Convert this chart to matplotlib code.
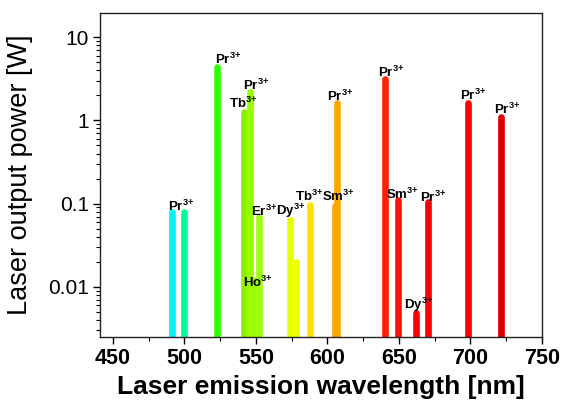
import matplotlib
matplotlib.use("Agg")
import matplotlib.pyplot as plt
import numpy as np
from matplotlib.ticker import LogLocator, NullFormatter, FixedLocator, MultipleLocator

plt.rcParams['font.family'] = ['Liberation Sans', 'DejaVu Sans']
plt.rcParams['mathtext.fontset'] = 'custom'
plt.rcParams['mathtext.rm'] = 'Liberation Sans'
plt.rcParams['mathtext.bf'] = 'Liberation Sans:bold'

# Data: laser lines (wavelength nm, output power W)
ions = ['Pr', 'Pr', 'Pr', 'Tb', 'Ho', 'Pr', 'Er', 'Dy', 'Dy', 'Tb', 'Sm', 'Pr',
        'Pr', 'Sm', 'Dy', 'Pr', 'Pr', 'Pr']
wavelengths = [491, 500, 523, 542, 549, 546, 552, 574, 578, 588, 605, 607,
               640, 649, 662, 670, 698, 721]
powers = [0.08, 0.08, 4.4, 1.27, 0.012, 2.2, 0.069, 0.064, 0.02, 0.097, 0.093, 1.64,
          3.1, 0.11, 0.0049, 0.105, 1.64, 1.1]
colors = ['#00F5F5', '#00FF99', '#33FF00', '#8EF000', '#99FF00', '#99FF00', '#A0FF10',
          '#E8FF00', '#F0FF00', '#FFE000', '#FFAA00', '#FFA500',
          '#FF2200', '#FF1010', '#FF0000', '#FF0000', '#FF0000', '#DD0000']

# Ion labels (text, anchor wavelength, anchor power)
label_texts = ['Pr', 'Pr', 'Tb', 'Pr', 'Er', 'Ho', 'Dy', 'Tb', 'Sm', 'Pr',
               'Pr', 'Sm', 'Dy', 'Pr', 'Pr', 'Pr']
label_x = [488.5, 521.5, 531.3, 541.1, 546.7, 541.1, 564.0, 577.3, 596.5, 600.0,
           635.0, 640.6, 653.2, 664.4, 692.5, 716.3]
label_y = [0.0815, 4.74, 1.41, 2.31, 0.071, 0.00998, 0.074, 0.108, 0.107, 1.71,
           3.31, 0.113, 0.00543, 0.104, 1.75, 1.19]

xticks = [450, 500, 550, 600, 650, 700, 750]
yticks = [0.01, 0.1, 1, 10]
yticklabels = ['0.01', '0.1', '1', '10']

ymin, ymax = 0.0025, 19.5

fig = plt.figure(figsize=(5.62, 4.09), dpi=100)
ax = fig.add_axes([100/562, 1 - 337/409, 442/562, 324/409])

ax.set_yscale('log')
ax.set_xlim(441, 750)
ax.set_ylim(ymin, ymax)

ax.vlines(wavelengths, ymin * 0.5, powers, colors=colors, linewidth=4.8,
          capstyle='round', zorder=2)

for t, x, y in zip(label_texts, label_x, label_y):
    ax.text(x, y, r'$\mathbf{%s}^{\mathbf{3{+}}}$' % t, fontsize=9.5,
            ha='left', va='baseline', zorder=3)

ax.xaxis.set_major_locator(FixedLocator(xticks))
ax.xaxis.set_minor_locator(MultipleLocator(25))
ax.set_yticks(yticks)
ax.set_yticklabels(yticklabels)
ax.yaxis.set_minor_locator(LogLocator(base=10, subs=np.arange(2, 10)))
ax.yaxis.set_minor_formatter(NullFormatter())

ax.tick_params(axis='x', which='major', direction='out', length=5, width=1,
               labelsize=15.5, pad=3)
ax.tick_params(axis='y', which='major', direction='out', length=5, width=1,
               labelsize=15, pad=3)
ax.tick_params(axis='both', which='minor', direction='out', length=3, width=0.8)
for lbl in ax.get_xticklabels():
    lbl.set_fontweight('bold')

for s in ax.spines.values():
    s.set_linewidth(1.0)
    s.set_color('#222222')

ax.set_xlabel('Laser emission wavelength [nm]', fontsize=19, fontweight='bold', labelpad=4)
ax.set_ylabel('Laser output power [W]', fontsize=19.5, labelpad=3)
ax.yaxis.set_label_coords(-0.152, 0.5)

fig.savefig('out.png', dpi=100)
